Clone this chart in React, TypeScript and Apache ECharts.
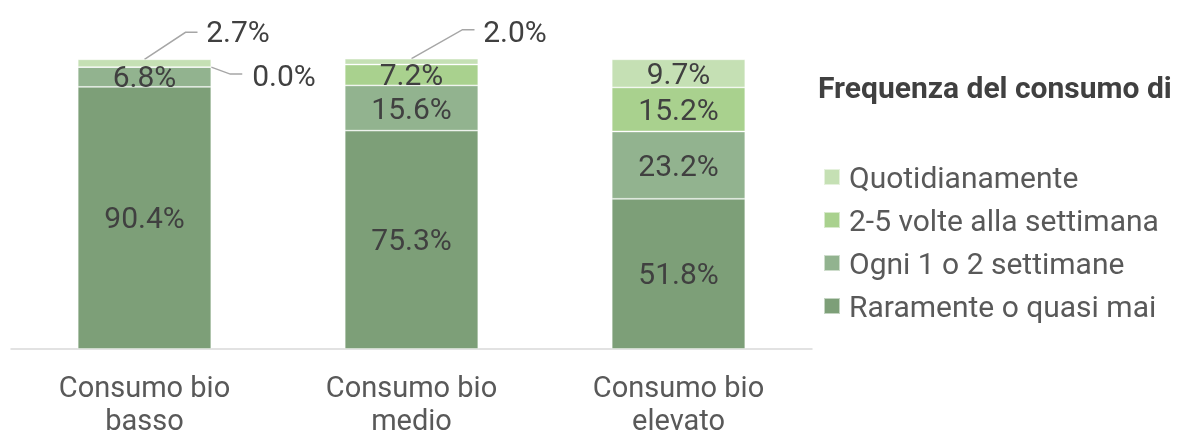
import React, { useEffect, useRef } from "react";
import * as echarts from "echarts";

const categories = ["Consumo bio\nbasso", "Consumo bio\nmedio", "Consumo bio\nelevato"];
const seriesNames = ["Raramente o quasi mai", "Ogni 1 o 2 settimane", "2-5 volte alla settimana", "Quotidianamente"];
const raramente = [90.4, 75.3, 51.8];
const ogni12 = [6.8, 15.6, 23.2];
const volte25 = [0.0, 7.2, 15.2];
const quotidiano = [2.7, 2.0, 9.7];
const colors = ["#7d9f78", "#92b38f", "#a9d18e", "#c5e0b4"];
const legendTitle = "Frequenza del consumo di";

export default function App() {
  const ref = useRef<HTMLDivElement>(null);
  useEffect(() => {
    if (!ref.current) return;
    const chart = echarts.init(ref.current, undefined, { renderer: "svg" });
    const values = [raramente, ogni12, volte25, quotidiano];
    const moved: Record<string, [number, number]> = {
      "3-0": [93.5, -32],
      "2-0": [139.5, 8],
      "3-1": [103.5, -30],
    };
    const series = values.map((vals, si) => ({
      name: seriesNames[si],
      type: "bar",
      stack: "total",
      barCategoryGap: "50%",
      data: vals,
      itemStyle: { color: colors[si], borderColor: "rgba(255,255,255,0.55)", borderWidth: 0.8 },
      label: {
        show: true,
        position: "inside",
        formatter: (p: any) => Number(p.value).toFixed(1) + "%",
        fontFamily: "Roboto",
        fontSize: 30,
        color: "#404040",
      },
      labelLayout: (p: any) => {
        const m = moved[`${p.seriesIndex}-${p.dataIndex}`];
        return m ? { dx: m[0], dy: m[1] } : {};
      },
    }));
    chart.setOption({
      animation: false,
      textStyle: { fontFamily: "Roboto" },
      grid: { left: 11, right: 369, top: 59, bottom: 88, containLabel: false },
      title: {
        text: legendTitle,
        left: 818,
        top: 69,
        padding: 0,
        textStyle: { fontFamily: "Roboto", fontSize: 30, fontWeight: "bold", color: "#404040", lineHeight: 36 },
      },
      legend: {
        orient: "vertical",
        left: 823,
        top: 159,
        padding: 0,
        icon: "rect",
        itemWidth: 16,
        itemHeight: 16,
        itemGap: 7,
        data: [...seriesNames].reverse(),
        textStyle: { fontFamily: "Roboto", fontSize: 30, color: "#595959", lineHeight: 36, padding: [0, 0, 0, 4] },
      },
      xAxis: {
        type: "category",
        data: categories,
        axisLine: { lineStyle: { color: "#d9d9d9", width: 1.5 } },
        axisTick: { show: false },
        axisLabel: { fontFamily: "Roboto", fontSize: 29, color: "#595959", lineHeight: 33, margin: 21 },
      },
      yAxis: { type: "value", min: 0, max: 100, show: false, splitLine: { show: false } },
      series,
    });

    const px = (c: number, v: number) => chart.convertToPixel({ xAxisIndex: 0, yAxisIndex: 0 }, [c, v]) as number[];
    const catW = px(1, 0)[0] - px(0, 0)[0];
    const half = catW * 0.25;
    const top0 = raramente[0] + ogni12[0] + volte25[0] + quotidiano[0];
    const top1 = raramente[1] + ogni12[1] + volte25[1] + quotidiano[1];
    const zero0 = raramente[0] + ogni12[0] + volte25[0];
    const a1 = px(0, top0);
    const a2 = px(0, zero0);
    a2[0] += half;
    const a3 = px(1, top1);
    const mk = (s: number[], d1: [number, number], d2: number) => {
      const m = [s[0] + d1[0], s[1] + d1[1]];
      return {
        type: "polyline",
        shape: { points: [s, m, [m[0] + d2, m[1]]] },
        style: { stroke: "#a6a6a6", lineWidth: 1.5, fill: "none" },
        silent: true,
      };
    };
    chart.setOption({
      graphic: [mk(a1, [41, -27], 12), mk(a2, [19, 7], 12), mk(a3, [51, -29], 12)],
    });
    return () => chart.dispose();
  }, []);
  return <div ref={ref} style={{ position: "fixed", left: 0, top: 0, width: 1181, height: 437 }} />;
}
